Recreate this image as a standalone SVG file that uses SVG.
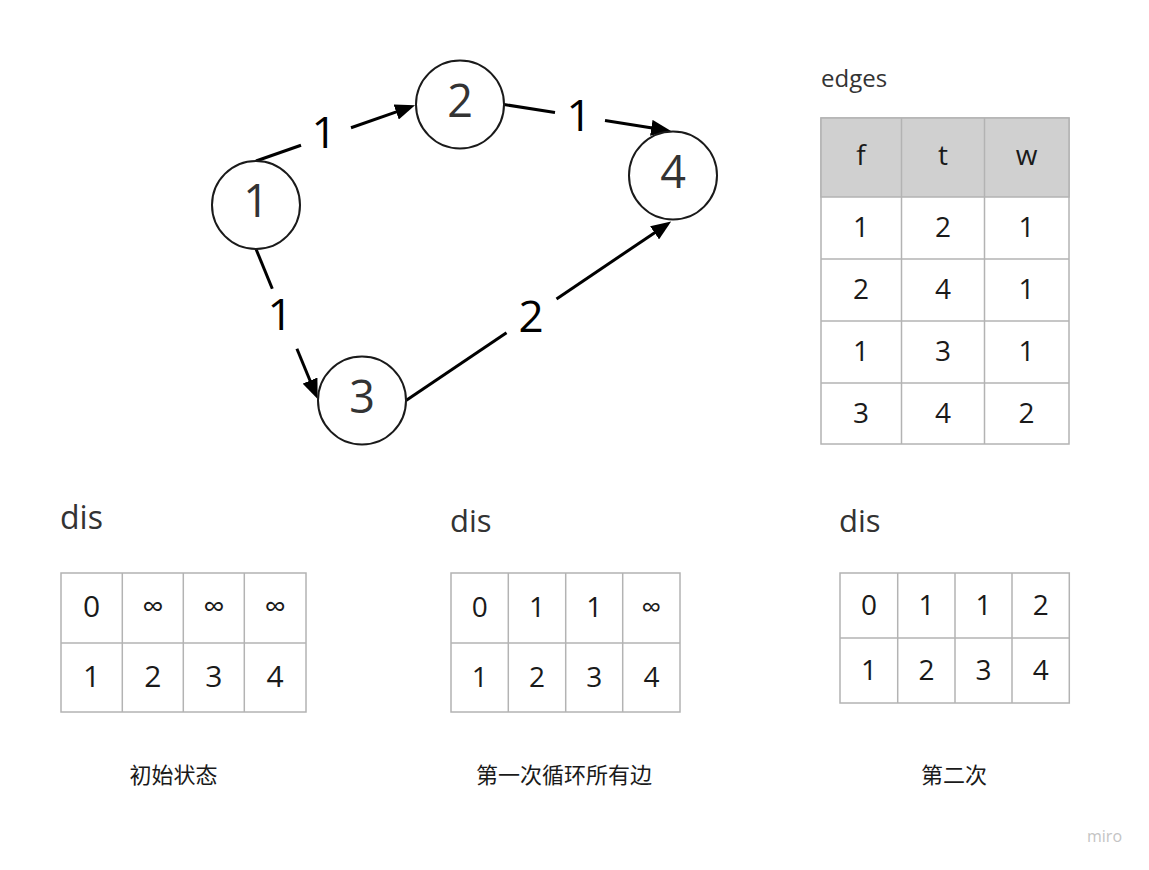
<svg xmlns="http://www.w3.org/2000/svg" width="1149" height="870" viewBox="0 0 1149 870">
<style>
  text { font-family: "Open Sans", "Noto Sans", "Liberation Sans", sans-serif; }
  .node circle { fill: #ffffff; stroke: #1a1a1a; stroke-width: 2; }
  .node text { font-size: 45px; fill: #333333; text-anchor: middle; }
  .edge { stroke: #000000; stroke-width: 3; fill: none; }
  .elabel { font-size: 44px; fill: #000000; text-anchor: middle; }
  .grid { fill: #ffffff; stroke: #b3b3b3; stroke-width: 1.5; }
  .head { fill: #d0d0d0; stroke: #b3b3b3; stroke-width: 1.5; }
  .gl { stroke: #b3b3b3; stroke-width: 1.5; }
  .cell { font-size: 28px; fill: #1a1a1a; text-anchor: middle; }
  .cell30 { font-size: 30px; fill: #1a1a1a; text-anchor: middle; }
  .title { fill: #333333; }
  .cap { font-family: "Noto Sans CJK SC", "Noto Sans", sans-serif; font-size: 22px; fill: #1a1a1a; text-anchor: middle; }
</style>
<defs>
  <marker id="arrow" viewBox="0 0 20 16" refX="1" refY="8" markerWidth="20" markerHeight="16" markerUnits="userSpaceOnUse" orient="auto">
    <path d="M0,0 L20,8 L0,16 z" fill="#000000"/>
  </marker>
</defs>
<rect x="0" y="0" width="1149" height="870" fill="#ffffff"/>

<g id="connectors">
  <g id="e12">
    <line class="edge" x1="256" y1="161" x2="301" y2="145.25"/>
    <line class="edge" x1="351" y1="127.75" x2="397.1" y2="111.6" marker-end="url(#arrow)"/>
    <text class="elabel" x="324" y="148">1</text>
  </g>
  <g id="e24">
    <line class="edge" x1="504" y1="104.5" x2="555" y2="112.5"/>
    <line class="edge" x1="605" y1="120.4" x2="652.3" y2="127.9" marker-end="url(#arrow)"/>
    <text class="elabel" x="579" y="131">1</text>
  </g>
  <g id="e13">
    <line class="edge" x1="256" y1="249" x2="272.3" y2="288.7"/>
    <line class="edge" x1="296.9" y1="348.7" x2="310.4" y2="381.5" marker-end="url(#arrow)"/>
    <text class="elabel" x="280" y="330">1</text>
  </g>
  <g id="e34">
    <line class="edge" x1="406" y1="400.5" x2="506.5" y2="332.7"/>
    <line class="edge" x1="556.5" y1="298.9" x2="655.4" y2="232.2" marker-end="url(#arrow)"/>
    <text class="elabel" x="531" y="332">2</text>
  </g>
</g>

<g id="node1" class="node"><circle cx="256" cy="205" r="44"/><text x="256" y="217">1</text></g>
<g id="node2" class="node"><circle cx="460" cy="104.5" r="44"/><text x="460" y="117">2</text></g>
<g id="node3" class="node"><circle cx="362" cy="400.5" r="44"/><text x="362" y="412.5">3</text></g>
<g id="node4" class="node"><circle cx="673" cy="175.5" r="44"/><text x="673" y="188">4</text></g>

<g id="edges-table">
  <text class="title" x="821" y="87" font-size="24">edges</text>
  <rect class="grid" x="821" y="118" width="248" height="326"/>
  <rect class="head" x="821" y="118" width="248" height="79"/>
  <line class="gl" x1="821" y1="259" x2="1069" y2="259"/>
  <line class="gl" x1="821" y1="321" x2="1069" y2="321"/>
  <line class="gl" x1="821" y1="383" x2="1069" y2="383"/>
  <line class="gl" x1="901.5" y1="118" x2="901.5" y2="444"/>
  <line class="gl" x1="984.5" y1="118" x2="984.5" y2="444"/>
  <text class="cell" x="861" y="165">f</text><text class="cell" x="943" y="165">t</text><text class="cell" x="1026.5" y="165">w</text>
  <text class="cell" x="861" y="237">1</text><text class="cell" x="943" y="237">2</text><text class="cell" x="1026.5" y="237">1</text>
  <text class="cell" x="861" y="299">2</text><text class="cell" x="943" y="299">4</text><text class="cell" x="1026.5" y="299">1</text>
  <text class="cell" x="861" y="361">1</text><text class="cell" x="943" y="361">3</text><text class="cell" x="1026.5" y="361">1</text>
  <text class="cell" x="861" y="423">3</text><text class="cell" x="943" y="423">4</text><text class="cell" x="1026.5" y="423">2</text>
</g>

<g id="dis-initial">
  <text class="title" x="60" y="529" font-size="32">dis</text>
  <rect class="grid" x="61" y="573" width="245" height="139"/>
  <line class="gl" x1="61" y1="643" x2="306" y2="643"/>
  <line class="gl" x1="122.3" y1="573" x2="122.3" y2="712"/>
  <line class="gl" x1="183.3" y1="573" x2="183.3" y2="712"/>
  <line class="gl" x1="244.3" y1="573" x2="244.3" y2="712"/>
  <text class="cell30" x="91.7" y="617">0</text><text class="cell30" x="152.8" y="617">∞</text><text class="cell30" x="213.8" y="617">∞</text><text class="cell30" x="275" y="617">∞</text>
  <text class="cell30" x="91.7" y="687">1</text><text class="cell30" x="152.8" y="687">2</text><text class="cell30" x="213.8" y="687">3</text><text class="cell30" x="275" y="687">4</text>
  <text class="cap" x="173.5" y="783">初始状态</text>
</g>

<g id="dis-round1">
  <text class="title" x="450" y="532" font-size="31">dis</text>
  <rect class="grid" x="451" y="573" width="229" height="139"/>
  <line class="gl" x1="451" y1="643" x2="680" y2="643"/>
  <line class="gl" x1="508.3" y1="573" x2="508.3" y2="712"/>
  <line class="gl" x1="565.7" y1="573" x2="565.7" y2="712"/>
  <line class="gl" x1="622.7" y1="573" x2="622.7" y2="712"/>
  <text class="cell" x="479.7" y="617">0</text><text class="cell" x="537" y="617">1</text><text class="cell" x="594.2" y="617">1</text><text class="cell" x="651.4" y="617">∞</text>
  <text class="cell" x="479.7" y="687">1</text><text class="cell" x="537" y="687">2</text><text class="cell" x="594.2" y="687">3</text><text class="cell" x="651.4" y="687">4</text>
  <text class="cap" x="564" y="783">第一次循环所有边</text>
</g>

<g id="dis-round2">
  <text class="title" x="839" y="532" font-size="31">dis</text>
  <rect class="grid" x="840" y="573" width="229.3" height="130"/>
  <line class="gl" x1="840" y1="638" x2="1069.3" y2="638"/>
  <line class="gl" x1="897.7" y1="573" x2="897.7" y2="703"/>
  <line class="gl" x1="955" y1="573" x2="955" y2="703"/>
  <line class="gl" x1="1012" y1="573" x2="1012" y2="703"/>
  <text class="cell" x="868.9" y="615">0</text><text class="cell" x="926.4" y="615">1</text><text class="cell" x="983.5" y="615">1</text><text class="cell" x="1040.7" y="615">2</text>
  <text class="cell" x="868.9" y="680">1</text><text class="cell" x="926.4" y="680">2</text><text class="cell" x="983.5" y="680">3</text><text class="cell" x="1040.7" y="680">4</text>
  <text class="cap" x="954" y="783">第二次</text>
</g>

<text id="watermark" x="1087" y="842" font-size="16" fill="#c4c4c4">miro</text>
</svg>
